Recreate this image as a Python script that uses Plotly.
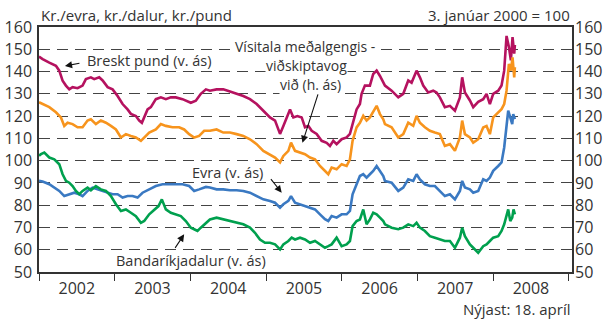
import pandas as pd
import plotly.graph_objects as go

# --- Data (time as decimal year, index values) ---------------------------
pund_t = [2002.00, 2002.048, 2002.136, 2002.224, 2002.268, 2002.312, 2002.356, 2002.400, 2002.444, 2002.510,
          2002.576, 2002.620, 2002.686, 2002.730, 2002.796, 2002.841, 2002.907, 2002.973, 2003.039, 2003.105,
          2003.171, 2003.215, 2003.281, 2003.325, 2003.360, 2003.391, 2003.435, 2003.479, 2003.545, 2003.611,
          2003.677, 2003.743, 2003.809, 2003.897, 2004.007, 2004.073, 2004.139, 2004.206,
          2004.259, 2004.347, 2004.435, 2004.523, 2004.611, 2004.699, 2004.787, 2004.875, 2004.963, 2005.051,
          2005.118, 2005.184, 2005.228, 2005.272, 2005.316, 2005.360, 2005.413, 2005.470, 2005.514, 2005.558,
          2005.602, 2005.668, 2005.734, 2005.800, 2005.844, 2005.888, 2005.932, 2005.998, 2006.064, 2006.108,
          2006.152, 2006.196, 2006.240, 2006.262, 2006.306, 2006.372, 2006.416, 2006.461, 2006.505, 2006.549,
          2006.571, 2006.659, 2006.747, 2006.813, 2006.879, 2006.923, 2006.989, 2007.033, 2007.077, 2007.143,
          2007.209, 2007.253, 2007.297, 2007.363, 2007.430, 2007.496, 2007.562, 2007.592, 2007.628, 2007.694,
          2007.738, 2007.804, 2007.870, 2007.914, 2007.958, 2008.002, 2008.068, 2008.112, 2008.147, 2008.178,
          2008.209, 2008.235, 2008.257, 2008.279, 2008.288]
pund_v = [146.7, 145.6, 144.0, 142.6, 140.4, 135.9, 133.7, 132.0, 133.0, 132.5,
          133.7, 136.6, 137.4, 136.6, 137.4, 136.0, 133.0, 132.0, 129.0, 125.4,
          123.0, 121.0, 120.0, 118.0, 117.0, 119.4, 123.0, 124.0, 127.6, 128.4,
          127.6, 128.4, 128.4, 127.6, 126.0, 126.9, 130.0, 132.0,
          131.4, 132.0, 132.0, 131.0, 130.0, 129.0, 127.6, 125.4, 122.4, 119.4,
          118.0, 112.0, 115.6, 119.4, 123.0, 119.4, 120.0, 119.4, 115.0, 115.6,
          113.4, 112.0, 108.9, 108.0, 106.6, 108.9, 107.4, 109.6, 110.4, 112.0,
          118.0, 123.0, 125.4, 130.0, 133.7, 133.7, 138.9, 140.4, 138.0, 135.0,
          133.7, 131.4, 128.4, 130.0, 136.0, 135.0, 140.4, 137.4, 133.7, 130.6,
          131.4, 130.6, 128.4, 124.0, 124.6, 122.4, 128.4, 137.4, 130.6, 127.0,
          124.0, 126.4, 127.6, 130.0, 125.4, 130.0, 131.4, 133.7, 140.4, 156.0,
          151.0, 145.0, 155.5, 148.0, 152.0]

visitala_t = [2002.00, 2002.048, 2002.136, 2002.224, 2002.290, 2002.334, 2002.378, 2002.444, 2002.510, 2002.576,
              2002.642, 2002.686, 2002.752, 2002.818, 2002.885, 2002.951, 2003.017, 2003.083, 2003.149, 2003.215,
              2003.281, 2003.347, 2003.391, 2003.457, 2003.545, 2003.611, 2003.677, 2003.765, 2003.853, 2003.919,
              2003.985, 2004.051, 2004.117, 2004.183,
              2004.259, 2004.347, 2004.435, 2004.523, 2004.611, 2004.699, 2004.787, 2004.875, 2004.963, 2005.051,
              2005.118, 2005.184, 2005.228, 2005.294, 2005.329, 2005.382, 2005.448, 2005.514, 2005.580, 2005.646,
              2005.712, 2005.778, 2005.822, 2005.866, 2005.932, 2005.998, 2006.064, 2006.108, 2006.143, 2006.196,
              2006.240, 2006.284, 2006.328, 2006.372, 2006.416, 2006.461, 2006.505, 2006.549,
              2006.571, 2006.659, 2006.747, 2006.813, 2006.879, 2006.945, 2006.989, 2007.033, 2007.099, 2007.165,
              2007.231, 2007.297, 2007.363, 2007.430, 2007.496, 2007.562, 2007.592, 2007.628, 2007.694, 2007.738,
              2007.804, 2007.870, 2007.914, 2007.958, 2008.002, 2008.068, 2008.112, 2008.147, 2008.178, 2008.209,
              2008.235, 2008.257, 2008.279, 2008.288]
visitala_v = [126.2, 125.4, 124.0, 121.7, 119.4, 115.6, 117.0, 116.4, 115.0, 115.0,
              118.0, 118.6, 116.4, 118.0, 117.0, 115.6, 114.0, 110.4, 111.9, 111.1,
              110.4, 108.9, 110.4, 112.6, 114.0, 116.4, 115.6, 115.0, 115.0, 114.0,
              111.9, 110.4, 111.1, 113.4,
              113.4, 114.0, 112.6, 112.6, 111.9, 111.1, 109.6, 107.4, 104.4, 102.9,
              101.4, 99.2, 102.1, 104.4, 108.1, 104.4, 103.6, 102.9, 101.4, 100.6,
              97.6, 95.4, 93.9, 96.9, 96.1, 98.4, 97.6, 100.6, 108.9, 114.9,
              117.0, 120.1, 118.0, 119.4, 121.7, 124.6, 120.9, 118.6,
              116.4, 115.0, 110.4, 111.9, 117.0, 115.6, 120.1, 117.0, 115.0, 113.4,
              112.6, 111.9, 106.6, 107.4, 104.4, 110.4, 118.0, 111.9, 110.4, 108.1,
              109.6, 114.9, 115.6, 111.9, 119.4, 121.7, 123.1, 125.4, 131.4, 143.4,
              140.4, 146.4, 137.4, 142.0]

evra_t = [2002.00, 2002.048, 2002.136, 2002.202, 2002.268, 2002.334, 2002.400, 2002.466, 2002.532, 2002.576,
          2002.642, 2002.708, 2002.774, 2002.841, 2002.907, 2002.973, 2003.039, 2003.105, 2003.171, 2003.237,
          2003.303, 2003.369, 2003.457, 2003.545, 2003.633, 2003.721, 2003.809, 2003.897, 2003.985, 2004.051,
          2004.117, 2004.206,
          2004.259, 2004.347, 2004.435, 2004.523, 2004.611, 2004.699, 2004.787, 2004.875, 2004.963, 2005.051,
          2005.118, 2005.184, 2005.228, 2005.294, 2005.329, 2005.382, 2005.448, 2005.514, 2005.580, 2005.646,
          2005.712, 2005.778, 2005.822, 2005.866, 2005.932, 2005.998, 2006.064, 2006.108, 2006.143, 2006.196,
          2006.240, 2006.284, 2006.328, 2006.372, 2006.416, 2006.461, 2006.505, 2006.549,
          2006.571, 2006.659, 2006.747, 2006.813, 2006.879, 2006.945, 2006.989, 2007.033, 2007.099, 2007.165,
          2007.231, 2007.297, 2007.363, 2007.430, 2007.496, 2007.562, 2007.592, 2007.628, 2007.694, 2007.738,
          2007.804, 2007.870, 2007.914, 2007.958, 2008.002, 2008.068, 2008.112, 2008.147, 2008.178, 2008.200,
          2008.227, 2008.253, 2008.266, 2008.288]
evra_v = [90.9, 90.6, 89.4, 87.9, 86.4, 84.1, 84.9, 85.6, 84.9, 84.1,
          86.4, 87.9, 87.1, 86.4, 85.6, 84.9, 84.9, 83.4, 84.1, 84.1,
          83.4, 85.6, 87.1, 88.6, 89.4, 89.4, 89.7, 89.4, 88.6, 86.4,
          87.1, 88.2,
          87.9, 87.1, 87.1, 86.7, 86.7, 86.4, 85.6, 84.1, 82.6, 81.9,
          81.1, 78.9, 80.4, 81.9, 84.1, 81.1, 80.4, 79.6, 78.9, 78.1,
          75.9, 73.7, 72.9, 75.1, 74.4, 75.9, 75.9, 77.4, 84.9, 89.4,
          93.1, 93.9, 92.4, 93.9, 95.4, 97.6, 95.4, 93.1,
          90.9, 90.1, 86.4, 87.9, 91.6, 90.9, 93.9, 91.6, 89.4, 88.6,
          88.6, 86.4, 84.1, 84.9, 82.6, 86.4, 90.9, 87.9, 87.1, 85.6,
          86.4, 91.6, 90.9, 92.4, 95.4, 97.6, 99.2, 105.9, 114.9, 122.4,
          119.4, 116.4, 120.9, 118.6]

dalur_t = [2002.00, 2002.026, 2002.070, 2002.136, 2002.202, 2002.268, 2002.312, 2002.356, 2002.400, 2002.444,
           2002.488, 2002.532, 2002.576, 2002.642, 2002.686, 2002.752, 2002.818, 2002.885, 2002.951, 2003.017,
           2003.083, 2003.149, 2003.215, 2003.281, 2003.347, 2003.391, 2003.457, 2003.523, 2003.580, 2003.624,
           2003.677, 2003.743, 2003.809, 2003.875, 2003.941, 2004.007, 2004.051, 2004.095, 2004.139, 2004.183,
           2004.259, 2004.347, 2004.435, 2004.523, 2004.611, 2004.699, 2004.787, 2004.853, 2004.919, 2004.985,
           2005.051, 2005.118, 2005.184, 2005.228, 2005.294, 2005.338, 2005.382, 2005.448, 2005.514, 2005.580,
           2005.646, 2005.712, 2005.778, 2005.822, 2005.866, 2005.932, 2005.998, 2006.064, 2006.108, 2006.143,
           2006.196, 2006.240, 2006.284, 2006.328, 2006.372, 2006.416, 2006.461, 2006.505, 2006.549,
           2006.571, 2006.659, 2006.747, 2006.813, 2006.879, 2006.945, 2006.989, 2007.033, 2007.099, 2007.165,
           2007.231, 2007.297, 2007.363, 2007.430, 2007.496, 2007.562, 2007.592, 2007.628, 2007.694, 2007.738,
           2007.804, 2007.870, 2007.914, 2007.958, 2008.002, 2008.068, 2008.112, 2008.147, 2008.178, 2008.200,
           2008.227, 2008.253, 2008.270, 2008.288]
dalur_v = [102.2, 102.9, 103.6, 101.4, 100.6, 98.4, 93.9, 90.9, 90.1, 88.6,
           86.4, 84.9, 86.4, 87.9, 86.7, 88.6, 87.1, 86.4, 84.1, 80.4,
           77.4, 78.1, 76.6, 75.1, 72.1, 72.9, 75.9, 78.1, 79.6, 82.6,
           78.1, 76.6, 75.9, 75.1, 72.9, 69.9, 69.2, 68.4, 69.9, 71.4,
           73.6, 74.4, 73.6, 72.9, 72.1, 71.4, 69.9, 67.6, 64.6, 63.1,
           63.1, 62.4, 60.1, 62.4, 63.9, 65.4, 64.6, 65.4, 64.6, 63.1,
           63.9, 62.4, 60.9, 61.6, 62.4, 65.4, 61.6, 62.4, 63.9, 70.6,
           72.9, 73.6, 78.1, 71.4, 73.6, 76.6, 75.9, 74.4, 72.9,
           71.4, 69.9, 69.2, 69.9, 71.4, 70.6, 72.1, 69.9, 68.4, 66.1,
           65.4, 64.6, 63.9, 63.9, 60.9, 65.4, 69.9, 66.1, 62.4, 60.9,
           58.6, 61.6, 62.4, 63.9, 65.4, 66.1, 68.4, 71.4, 75.9, 78.1,
           72.9, 74.4, 78.1, 75.9]

y_ticks = [50, 60, 70, 80, 90, 100, 110, 120, 130, 140, 150, 160]
x_range = ["2002-01-01", "2009-01-16"]

# --- Colours & style -------------------------------------------------------
C_PUND = "#b5125f"
C_VIS = "#f7941d"
C_EVRA = "#3a79c2"
C_DALUR = "#00a04e"
TXT = "#333333"
FONT = "Open Sans"
LW = 2.6


def to_dates(years):
    out = []
    for y in years:
        yr = int(y)
        start = pd.Timestamp(yr, 1, 1)
        end = pd.Timestamp(yr + 1, 1, 1)
        out.append(start + (end - start) * (y - yr))
    return out


def frac_date(y):
    return to_dates([y])[0]


fig = go.Figure()
fig.add_trace(go.Scatter(x=to_dates(pund_t), y=pund_v, mode="lines",
                         line=dict(color=C_PUND, width=LW), name="Breskt pund"))
fig.add_trace(go.Scatter(x=to_dates(evra_t), y=evra_v, mode="lines",
                         line=dict(color=C_EVRA, width=LW), name="Evra"))
fig.add_trace(go.Scatter(x=to_dates(dalur_t), y=dalur_v, mode="lines",
                         line=dict(color=C_DALUR, width=LW), name="Bandaríkjadalur"))
fig.add_trace(go.Scatter(x=to_dates(visitala_t), y=visitala_v, mode="lines", yaxis="y2",
                         line=dict(color=C_VIS, width=LW), name="Vísitala"))

axis_font = dict(family=FONT, size=16, color=TXT)
fig.update_layout(
    width=603, height=322,
    margin=dict(l=39, r=31, t=27, b=50),
    paper_bgcolor="white", plot_bgcolor="white",
    showlegend=False,
    font=dict(family=FONT, color=TXT),
    xaxis=dict(type="date", range=x_range, tick0="2002-01-01", dtick="M12",
               tickformat="%Y", ticklabelmode="period", ticks="outside", ticklen=7,
               tickwidth=1.2, tickcolor=TXT, showgrid=False, zeroline=False,
               showline=True, mirror=True, linecolor=TXT, linewidth=1.5,
               tickfont=axis_font, ticklabelstandoff=-6, automargin=False),
    yaxis=dict(range=[50, 160], tickvals=y_ticks, ticks="", showgrid=True,
               gridcolor="#444444", gridwidth=1.2, griddash="11px,7px",
               zeroline=False, showline=True, mirror=True, linecolor=TXT,
               linewidth=1.5, tickfont=axis_font, ticklabelstandoff=2,
               automargin=False),
    yaxis2=dict(range=[50, 160], tickvals=y_ticks, overlaying="y", side="right",
                ticks="", showgrid=False, zeroline=False, showline=False,
                tickfont=axis_font, ticklabelstandoff=2, automargin=False),
)

head_font = dict(family=FONT, size=15, color=TXT)
ann_font = dict(family=FONT, size=14.5, color=TXT)
block_font = dict(family=FONT, size=14, color=TXT)

headers = [
    dict(text="Kr./evra, kr./dalur, kr./pund", xref="paper", yref="paper",
         x=0.0, y=1.0, xanchor="left", yanchor="bottom"),
    dict(text="3. janúar 2000 = 100", xref="paper", yref="paper",
         x=1.0, y=1.0, xanchor="right", yanchor="bottom"),
    dict(text="Nýjast: 18. apríl", xref="paper", yref="paper",
         x=1.0, y=0.0, xanchor="right", yanchor="middle", yshift=-37),
]
for t in headers:
    fig.add_annotation(showarrow=False, font=head_font, **t)

labels = [
    dict(text="Breskt pund (v. ás)", x=frac_date(2002.61), y=144.8,
         xanchor="left", yanchor="middle"),
    dict(text="Evra (v. ás)", x=frac_date(2003.995), y=94.6,
         xanchor="left", yanchor="middle"),
    dict(text="Bandaríkjadalur (v. ás)", x=frac_date(2003.01), y=55.0,
         xanchor="left", yanchor="middle", bgcolor="white", borderpad=0),
]
for t in labels:
    fig.add_annotation(showarrow=False, font=ann_font, **t)

# three-line label for the trade-weighted index, one line per annotation
block = [
    ("Vísitala meðalgengis -", 2005.514, 151.4),
    ("viðskiptavog", 2005.536, 142.6),
    ("við (h. ás)", 2005.58, 134.4),
]
for txt, tx, val in block:
    fig.add_annotation(text=txt, x=frac_date(tx), y=val, showarrow=False,
                       xanchor="center", yanchor="middle", bgcolor="white",
                       borderpad=0, font=block_font)

# pointer arrows from each label to its line
arrows = [
    (2002.343, 142.5, 16, -3),
    (2005.48, 108.0, 16, -50),
    (2005.206, 85.6, -12, -15),
    (2003.919, 66.9, -10, 15),
]
for ax_t, val, dx, dy in arrows:
    fig.add_annotation(x=frac_date(ax_t), y=val, text="", showarrow=True,
                       ax=dx, ay=dy, arrowhead=2, arrowsize=1.3, arrowwidth=1.1,
                       arrowcolor="#111111")

fig.write_html("out.html")
